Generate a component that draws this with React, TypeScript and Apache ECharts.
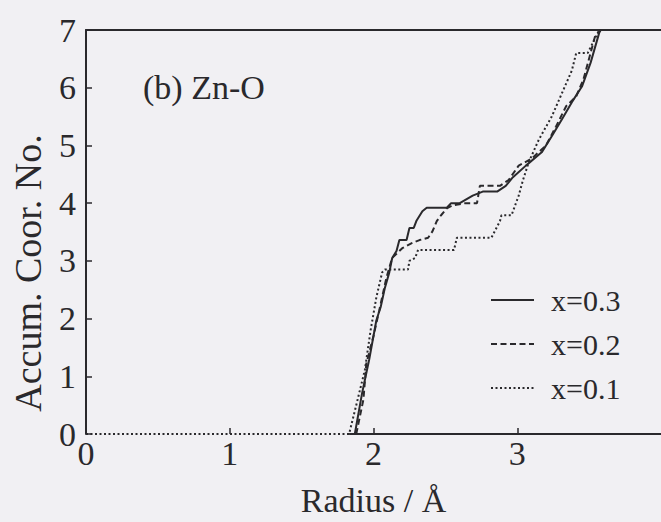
import React, { useEffect, useRef } from "react";
import * as echarts from "echarts";

const xTicks = [0, 1, 2, 3];
const xRange = [0, 4];
const yTicks = [0, 1, 2, 3, 4, 5, 6, 7];
const seriesNames = ["x=0.3", "x=0.2", "x=0.1"];

const x03: [number, number][] = [
  [1.87, 0], [1.92, 0.7], [1.97, 1.29], [2.02, 1.97], [2.05, 2.2], [2.08, 2.54], [2.11, 2.8],
  [2.13, 3.05], [2.16, 3.17], [2.18, 3.36], [2.23, 3.36], [2.25, 3.57], [2.28, 3.57],
  [2.3, 3.7], [2.34, 3.86], [2.37, 3.92], [2.51, 3.92], [2.54, 4.0], [2.6, 4.0],
  [2.69, 4.13], [2.76, 4.2], [2.86, 4.2], [2.92, 4.3], [2.97, 4.45], [3.06, 4.65],
  [3.17, 4.88], [3.24, 5.16], [3.31, 5.45], [3.38, 5.75], [3.45, 6.02], [3.51, 6.43],
  [3.57, 6.95], [3.58, 7.0],
];

const x02: [number, number][] = [
  [1.88, 0], [1.93, 0.6], [1.95, 1.22], [2.0, 1.7], [2.04, 2.14], [2.09, 2.71],
  [2.13, 3.05], [2.2, 3.22], [2.27, 3.31], [2.32, 3.36], [2.38, 3.4], [2.41, 3.51],
  [2.44, 3.69], [2.47, 3.79], [2.51, 3.91], [2.55, 3.96], [2.64, 4.0], [2.72, 4.0],
  [2.74, 4.3], [2.88, 4.3], [2.94, 4.4], [3.01, 4.65], [3.1, 4.77], [3.2, 5.0],
  [3.27, 5.33], [3.34, 5.68], [3.41, 5.85], [3.46, 6.14], [3.51, 6.6], [3.54, 6.88],
  [3.58, 7.0],
];

const x01: [number, number][] = [
  [0, 0], [1.83, 0], [1.88, 0.5], [1.94, 1.11], [1.98, 1.8], [2.02, 2.37], [2.06, 2.8],
  [2.08, 2.85], [2.24, 2.85], [2.25, 3.0], [2.29, 3.05], [2.31, 3.19], [2.56, 3.19],
  [2.58, 3.4], [2.82, 3.4], [2.88, 3.69], [2.89, 3.79], [2.96, 3.79], [3.01, 4.13],
  [3.04, 4.4], [3.08, 4.71], [3.15, 5.1], [3.24, 5.5], [3.31, 5.9], [3.38, 6.3],
  [3.41, 6.6], [3.49, 6.6], [3.53, 6.8], [3.57, 7.0],
];

const baseline: [number, number][] = [[1.83, 0], [4, 0]];

const INK = "#2a292c";
const FONT = '"Liberation Serif", "Times New Roman", serif';

export default function App() {
  const ref = useRef<HTMLDivElement>(null);
  useEffect(() => {
    if (!ref.current) return;
    const chart = echarts.init(ref.current, undefined, { renderer: "svg" });
    const lineCommon = { type: "line", symbol: "none", showSymbol: false, clip: true, z: 3 };
    chart.setOption({
      animation: false,
      backgroundColor: "#f1f0f3",
      textStyle: { fontFamily: FONT },
      grid: { left: 86, top: 30, width: 576, height: 409 },
      xAxis: [
        {
          type: "value",
          min: xRange[0],
          max: xRange[1],
          interval: 1,
          axisLine: { show: false },
          axisTick: {
            show: true,
            inside: true,
            length: 6,
            customValues: xTicks,
            lineStyle: { color: INK, width: 1.5 },
          },
          axisLabel: {
            fontSize: 34,
            color: INK,
            margin: 2,
            fontFamily: FONT,
            customValues: xTicks,
          },
          splitLine: { show: false },
          name: "Radius / Å",
          nameLocation: "middle",
          nameGap: 49,
          nameTextStyle: { fontSize: 34, color: INK, fontFamily: FONT },
        },
        {
          type: "value",
          position: "top",
          min: xRange[0],
          max: xRange[1],
          interval: 1,
          axisLine: { show: true, lineStyle: { color: INK, width: 2 } },
          axisTick: { show: false },
          axisLabel: { show: false },
          splitLine: { show: false },
        },
      ],
      yAxis: {
        type: "value",
        min: yTicks[0],
        max: yTicks[yTicks.length - 1],
        interval: 1,
        axisLine: { show: true, lineStyle: { color: INK, width: 2 } },
        axisTick: { show: true, inside: true, length: 6, lineStyle: { color: INK, width: 1.5 } },
        axisLabel: { fontSize: 34, color: INK, margin: 10, fontFamily: FONT },
        splitLine: { show: false },
      },
      legend: {
        data: seriesNames,
        orient: "vertical",
        left: 485,
        top: 280,
        itemWidth: 43,
        itemHeight: 14,
        itemGap: 14,
        itemStyle: { opacity: 0 },
        textStyle: { fontSize: 30, color: INK, fontFamily: FONT, padding: [0, 0, 0, 12] },
      },
      graphic: [
        {
          type: "text",
          x: 143,
          y: 87,
          style: { text: "(b) Zn-O", font: `34px ${FONT}`, fill: INK, verticalAlign: "middle" },
        },
        {
          type: "text",
          x: 28,
          y: 273,
          rotation: Math.PI / 2,
          style: {
            text: "Accum. Coor. No.",
            font: `38px ${FONT}`,
            fill: INK,
            align: "center",
            verticalAlign: "middle",
          },
        },
      ],
      series: [
        {
          ...lineCommon,
          name: seriesNames[0],
          data: x03,
          lineStyle: { color: INK, width: 2, type: "solid" },
          itemStyle: { color: INK },
        },
        {
          ...lineCommon,
          name: seriesNames[1],
          data: x02,
          lineStyle: { color: INK, width: 2, type: [6, 3.5] },
          itemStyle: { color: INK },
        },
        {
          ...lineCommon,
          name: seriesNames[2],
          data: x01,
          lineStyle: { color: INK, width: 2, type: [2, 2.5] },
          itemStyle: { color: INK },
        },
        {
          type: "line",
          symbol: "none",
          data: baseline,
          lineStyle: { color: INK, width: 2 },
          silent: true,
          z: 2,
        },
      ],
    });
    return () => chart.dispose();
  }, []);
  return (
    <div
      ref={ref}
      style={{ position: "fixed", left: 0, top: 0, width: 661, height: 522 }}
    />
  );
}
